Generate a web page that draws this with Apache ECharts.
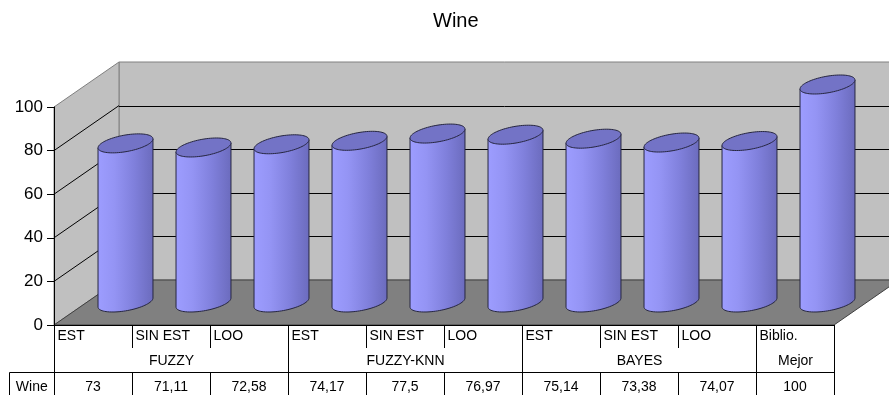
<!DOCTYPE html>
<html>
<head>
<meta charset="utf-8">
<script src="https://cdn.jsdelivr.net/npm/echarts@6/dist/echarts.min.js"></script>
<style>
html,body{margin:0;padding:0;background:#fff;}
#chart{width:889px;height:395px;}
</style>
</head>
<body>
<div id="chart"></div>
<script>
// ---- data ----
const chartTitle = 'Wine';
const seriesName = 'Wine';
const categories = ['EST', 'SIN EST', 'LOO', 'EST', 'SIN EST', 'LOO', 'EST', 'SIN EST', 'LOO', 'Biblio.'];
const groupNames = ['FUZZY', 'FUZZY-KNN', 'BAYES', 'Mejor'];
const groupSpans = [3, 3, 3, 1];
const values = [73, 71.11, 72.58, 74.17, 77.5, 76.97, 75.14, 73.38, 74.07, 100];
const yTicks = [0, 20, 40, 60, 80, 100];

// ---- layout / style constants ----
const DX = 65, DY = -45;           // 3D depth offset
const FONT = '"Liberation Sans", Arial, sans-serif';

const groupStart = {};
(function () {
  let idx = 0;
  groupNames.forEach((g, k) => { groupStart[idx] = { name: g, span: groupSpans[k] }; idx += groupSpans[k]; });
})();
const fmt = v => String(v).replace('.', ',');
const px = x => Math.round(x) + 0.5;

function line(x1, y1, x2, y2, color, z) {
  return { type: 'line', z2: z || 1, shape: { x1: x1, y1: y1, x2: x2, y2: y2 },
    style: { stroke: color || '#000', lineWidth: 1 } };
}
function txt(x, y, s, align) {
  return { type: 'text', z2: 5, style: { x: x, y: y, text: s, align: align || 'center',
    verticalAlign: 'middle', fill: '#000', font: '14px ' + FONT } };
}

function renderWalls(params, api) {
  const cs = params.coordSys;
  const x0 = cs.x, x1 = cs.x + cs.width, yt = cs.y, yb = cs.y + cs.height;
  const ch = [];
  ch.push({ type: 'polygon', z2: 1, shape: { points: [[x0 + DX, yt + DY], [x1 + DX, yt + DY], [x1 + DX, yb + DY], [x0 + DX, yb + DY]] },
    style: { fill: '#c0c0c0', stroke: '#808080', lineWidth: 1 } });
  ch.push({ type: 'polygon', z2: 2, shape: { points: [[x0, yt], [x0 + DX, yt + DY], [x0 + DX, yb + DY], [x0, yb]] },
    style: { fill: '#c0c0c0', stroke: '#808080', lineWidth: 1 } });
  ch.push({ type: 'polygon', z2: 3, shape: { points: [[x0, yb], [x1, yb], [x1 + DX, yb + DY], [x0 + DX, yb + DY]] },
    style: { fill: '#808080', stroke: '#404040', lineWidth: 1 } });
  yTicks.slice(1, -1).forEach(v => {
    const y = api.coord([0, v])[1];
    ch.push(line(x0, y, x0 + DX, y + DY, '#000', 4));
    ch.push(line(x0 + DX, px(y + DY), x1 + DX, px(y + DY), '#000', 4));
  });
  return { type: 'group', children: ch };
}

function renderCyl(params, api) {
  const i = api.value(0), v = api.value(1);
  const top = api.coord([i, v]);
  const bot = api.coord([i, 0]);
  const band = api.size([1, 0])[0];
  const w = band * 0.353;
  const cx = top[0] + DX / 2;
  const ty = top[1] + DY / 2, byy = bot[1] + DY / 2;
  const A = w * 0.88, BX = w * 0.47, BY = -w * 0.345;
  const ell = (cy, t) => [cx + A * Math.cos(t) + BX * Math.sin(t), cy + BY * Math.sin(t)];
  const t0 = Math.atan2(BX, A);
  const N = 40;
  const body = [ell(ty, Math.PI + t0)];
  for (let k = 0; k <= N; k++) body.push(ell(byy, Math.PI + t0 + Math.PI * k / N));
  body.push(ell(ty, 2 * Math.PI + t0));
  const cap = [];
  for (let k = 0; k < 2 * N; k++) cap.push(ell(ty, 2 * Math.PI * k / (2 * N)));
  return { type: 'group', children: [
    { type: 'polygon', z2: 1, shape: { points: body },
      style: { fill: { type: 'linear', x: 0, y: 0, x2: 1, y2: 0, colorStops: [
        { offset: 0, color: '#9d9dff' }, { offset: 0.3, color: '#9494f4' },
        { offset: 0.65, color: '#8080dc' }, { offset: 1, color: '#6b6bbd' }] },
        stroke: '#262640', lineWidth: 1 } },
    { type: 'polygon', z2: 2, shape: { points: cap },
      style: { fill: '#7373c6', stroke: '#262640', lineWidth: 1 } }
  ] };
}

function renderTable(params, api) {
  const i = api.value(0);
  const cs = params.coordSys;
  const c = api.coord([i, 0]);
  const band = api.size([1, 0])[0];
  const xL = px(c[0] - band / 2), xR = px(c[0] + band / 2);
  const y0 = cs.y + cs.height;
  const ch = [];
  const last = categories.length - 1;
  ch.push(txt(xL + 3, y0 + 11, categories[i], 'left'));
  ch.push(txt(c[0], y0 + 62, fmt(values[i])));
  if (groupStart[i]) {
    ch.push(line(xL, y0, xL, y0 + 80));
    ch.push(txt(xL + groupStart[i].span * band / 2, y0 + 36, groupStart[i].name));
  } else {
    ch.push(line(xL, y0, xL, y0 + 23));
    ch.push(line(xL, y0 + 47, xL, y0 + 80));
  }
  if (i === last) ch.push(line(xR, y0, xR, y0 + 80));
  if (i === 0) {
    const xs = px(cs.x - 45);
    ch.push(line(xs, px(y0 + 47), px(cs.x + cs.width), px(y0 + 47)));
    ch.push(line(xs, px(y0 + 47), xs, y0 + 80));
    ch.push(txt((xs + cs.x) / 2, y0 + 62, seriesName));
  }
  return { type: 'group', children: ch };
}

const chart = echarts.init(document.getElementById('chart'), null, { renderer: 'canvas' });
chart.setOption({
  animation: false,
  backgroundColor: '#fff',
  title: { text: chartTitle, left: 428, top: 6,
    textStyle: { fontSize: 20, fontWeight: 'normal', color: '#000', fontFamily: FONT } },
  grid: { left: 54, right: 55, top: 107, bottom: 70 },
  xAxis: { type: 'category', data: categories, z: 10,
    axisLine: { show: true, lineStyle: { color: '#000', width: 1 } },
    axisTick: { show: false }, axisLabel: { show: false }, splitLine: { show: false } },
  yAxis: { type: 'value', min: yTicks[0], max: yTicks[yTicks.length - 1], interval: 20, z: 10,
    axisLine: { show: true, lineStyle: { color: '#000', width: 1 } },
    axisTick: { show: true, length: 7, lineStyle: { color: '#000' } },
    axisLabel: { color: '#000', fontSize: 17, fontFamily: FONT, margin: 11 },
    splitLine: { show: false } },
  series: [
    { type: 'custom', name: 'walls', z: 1, silent: true, data: [[0, 0]], renderItem: renderWalls },
    { type: 'custom', name: seriesName, z: 2, data: values.map((v, i) => [i, v]), renderItem: renderCyl },
    { type: 'custom', name: 'table', z: 3, silent: true, data: categories.map((c, i) => [i, 0]), renderItem: renderTable }
  ]
});
</script>
</body>
</html>
